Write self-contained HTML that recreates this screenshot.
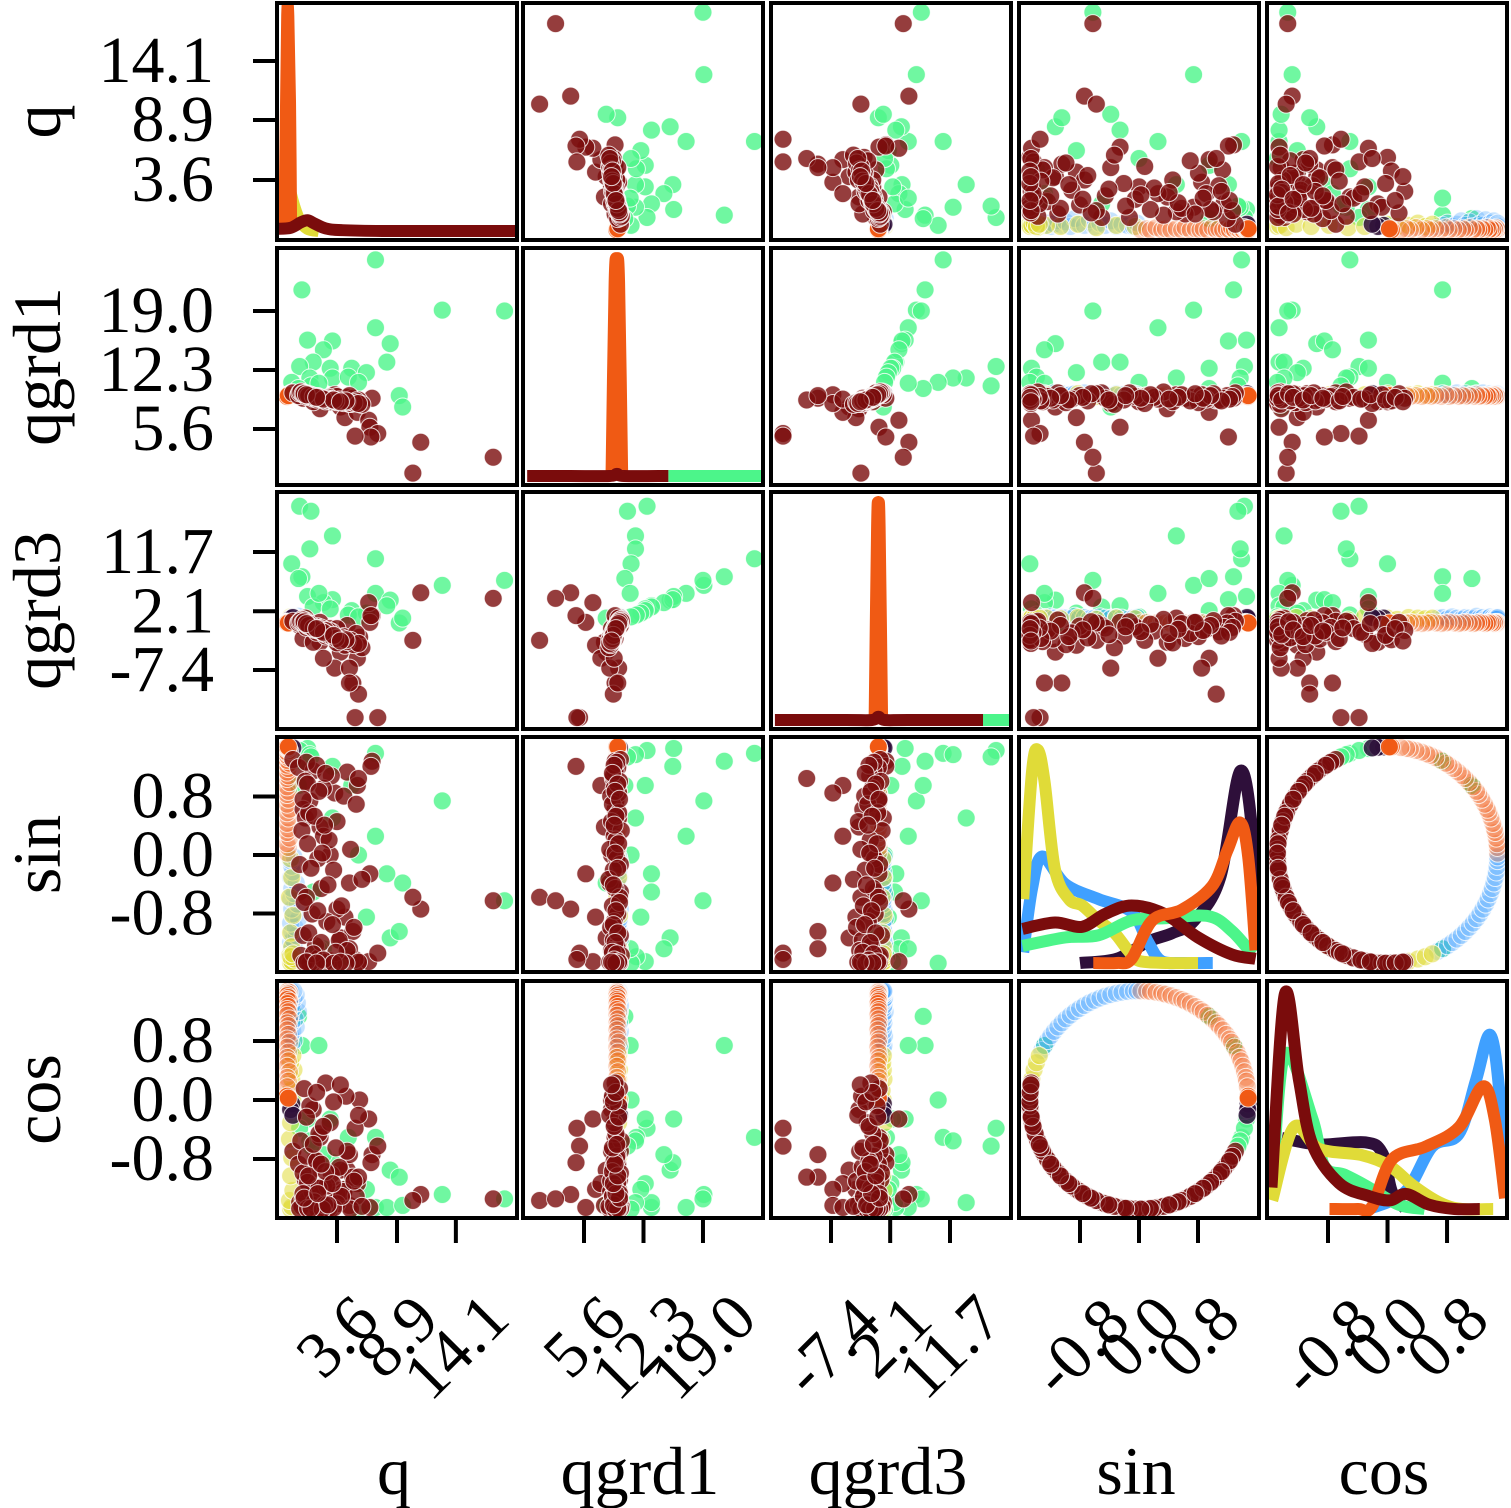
<!DOCTYPE html>
<html><head><meta charset="utf-8"><style>
html,body{margin:0;padding:0;background:#fff;}
svg{display:block;}
text{font-family:"Liberation Serif",serif;fill:#000;}
</style></head><body>
<svg id="chart" width="1511" height="1508" viewBox="0 0 1511 1508" xmlns="http://www.w3.org/2000/svg">
<rect x="0" y="0" width="1511" height="1508" fill="#fff"/>
</svg>
<script>
// ---- data ----
const varNames = ["q","qgrd1","qgrd3","sin","cos"];
const tickVals = [[3.6,8.9,14.1],[5.6,12.3,19.0],[-7.4,2.1,11.7],[-0.8,0.0,0.8],[-0.8,0.0,0.8]];
const tickLabels = [["3.6","8.9","14.1"],["5.6","12.3","19.0"],["-7.4","2.1","11.7"],["-0.8","0.0","0.8"],["-0.8","0.0","0.8"]];
const xLo = [-1.7,-1.27,-17.03,-1.627,-1.62];
const xHi = [19.5,25.76,21.49,1.627,1.606];
const yLo = [-1.69,-0.75,-16.95,-1.60,-1.60];
const yHi = [19.22,26.15,21.41,1.614,1.614];
const ringR = 1.48;
// records: [q, qgrd1, qgrd3, angleDeg]
const greenPts = [[7.0,24.8,10.6,110],[0.5,21.4,7.7,60],[12.9,19.1,6.3,150],[18.4,19.0,7.1,205],[7.0,17.1,5.0,170],[8.3,15.3,3.9,230],
[8.0,13.2,3.0,190],[1.0,15.7,4.5,100],[3.2,15.6,4.0,125],[2.4,14.6,3.5,240],[1.5,13.2,2.8,200],[0.3,12.7,19.1,105],
[3.0,12.5,2.5,260],[4.9,12.5,2.2,140],[6.2,12.0,1.8,215],[3.2,11.4,14.3,160],[4.6,11.5,1.5,250],[5.5,10.9,1.2,180],
[1.2,11.4,12.2,112],[9.1,9.4,0.2,225],[9.4,8.1,1.0,195],[-0.4,10.9,9.8,270],[1.3,10.5,18.3,115],[0.2,10.2,7.4,40],[2.0,10.8,5.0,300]];
const redPts = [[0.3,9.7,-0.2,200],[1.2,9.2,0.3,150],[2.1,9.1,0.3,250],[3.0,8.7,-0.7,180],[4.5,9.2,-0.2,130],[3.9,8.1,-4.5,230],
[2.1,7.9,-2.9,165],[5.6,8.7,-2.1,270],[6.7,9.1,1.4,120],[4.3,6.9,-3.4,215],[5.4,7.5,-5.5,140],[6.4,6.6,3.5,260],
[6.5,5.8,0.3,190],[7.2,5.1,-15.1,245],[6.6,4.7,1.4,125],[11.0,4.1,5.1,210],[10.3,0.6,-2.6,203],[17.4,2.4,4.2,205],
[0.6,9.1,-2.3,155],[-0.3,9.7,0.5,118],[1.5,8.7,-2.9,265],[3.4,9.5,-7.1,145],[5.0,9.1,-9.5,225],[4.7,8.5,-7.1,195],
[5.5,8.9,-11.3,135],[5.2,4.8,-15.1,255],[2.4,9.0,-5.5,170],[3.6,9.3,-0.7,210],[4.7,9.4,-9.5,240],[0.8,9.5,1.0,160],
[0.2,9.4,0.2,126],[1.5,9.1,-0.5,129],[3.1,8.9,-1.2,133],[0.8,9.6,0.6,137],[2.4,9.0,-0.8,142],[4.2,8.6,-2.0,147],
[5.3,8.8,-1.5,152],[1.1,9.5,0.1,157],[3.6,8.7,-3.0,162],[0.5,9.8,0.8,167],[2.9,9.2,-1.1,172],[4.8,8.5,-2.6,177],
[1.9,9.3,-0.4,182],[0.3,9.7,0.4,185],[3.3,8.9,-1.9,188],[5.8,8.4,-3.8,193],[2.2,9.1,-0.6,198],[0.9,9.6,0.2,203],
[4.0,8.8,-2.2,208],[1.4,9.4,-0.3,213],[2.7,9.0,-1.4,218],[5.1,8.6,-3.3,222],[0.6,9.7,0.7,228],[3.8,8.9,-2.4,232],
[1.7,9.3,-0.9,237],[4.5,8.7,-2.8,242],[0.4,9.8,0.5,248],[2.0,9.2,-0.7,252],[3.0,9.0,-1.6,258],[5.5,8.5,-3.1,262],
[1.2,9.5,0.0,267],[4.4,8.8,-2.5,272],[0.7,9.6,0.3,276],[2.6,9.1,-1.0,279],
[0.9,9.3,-0.5,121],[1.8,9.0,-1.3,124],[2.6,8.8,-1.9,131],[1.0,9.4,-0.2,139],[2.0,9.1,-1.0,144],[0.6,9.6,0.3,149],
[1.6,9.2,-0.8,159],[2.5,9.0,-1.5,164],[1.0,9.5,0.0,174],[2.3,9.1,-1.2,179],[1.3,9.4,-0.4,187],[2.8,8.9,-1.7,196],
[0.7,9.6,0.4,206],[1.9,9.2,-0.9,211],[3.2,8.9,-2.0,220],[1.1,9.4,-0.2,226],[2.2,9.1,-1.1,234],[3.5,8.8,-2.3,244],
[1.5,9.3,-0.6,246],[2.4,9.0,-1.3,256],[0.9,9.5,0.1,261],[3.3,8.9,-1.8,269],[1.8,9.2,-0.7,274],[3.9,8.7,-2.7,278]];
const yellowPts = [[-0.5,9.4,0.9,182],[-0.4,9.5,1.0,192],[-0.6,9.3,0.8,203],[-0.3,9.6,1.1,214],[-0.5,9.4,0.9,226],[-0.4,9.5,1.0,238],
[-0.6,9.3,0.7,249],[-0.5,9.5,1.2,258],[-0.4,9.4,0.9,265],[-0.3,9.6,1.0,270],[-0.5,9.3,0.8,275],[-0.4,9.5,1.1,281],
[-0.2,9.6,1.0,286],[-0.5,9.4,0.9,290],[-0.3,9.5,1.0,294]];
const purplePts = [[-0.4,9.5,1.0,92],[-0.5,9.4,0.9,95],[-0.3,9.6,1.1,98]];
const bluePts = [[-0.5,9.5,1.0,297],[-0.4,9.6,1.1,300],[-0.2,9.4,0.9,303],[-0.5,9.5,1.2,306],[-0.3,9.7,1.0,309],[0.0,9.5,0.8,312],
[-0.4,9.6,1.1,315],[-0.1,9.4,1.0,318],[-0.5,9.5,0.9,321],[0.2,9.6,1.3,324],[-0.3,9.5,1.0,327],[-0.4,9.7,1.1,330],
[0.1,9.4,0.9,333],[-0.5,9.5,1.0,336],[-0.2,9.6,1.2,339],[-0.4,9.5,1.0,342],[0.0,9.4,0.9,345],[-0.5,9.6,1.1,348],
[-0.3,9.5,1.0,351],[-0.4,9.4,0.8,354],[-0.5,9.6,1.0,357],[-0.2,9.5,1.1,359]];
const orangePts = [[-0.8,9.3,0.2,1],[-0.7,9.4,0.3,4],[-0.8,9.3,0.1,6],[-0.6,9.4,0.2,9],[-0.8,9.3,0.3,12],[-0.7,9.5,0.2,14],
[-0.8,9.3,0.1,17],[-0.7,9.4,0.2,20],[-0.8,9.3,0.3,23],[-0.6,9.4,0.2,25],[-0.8,9.3,0.1,28],[-0.7,9.4,0.2,31],
[-0.8,9.3,0.3,34],[-0.7,9.5,0.2,36],[-0.8,9.3,0.1,39],[-0.6,9.4,0.2,42],[-0.8,9.3,0.3,45],[-0.7,9.4,0.2,47],
[-0.8,9.3,0.1,50],[-0.7,9.4,0.2,53],[-0.8,9.3,0.3,56],[-0.6,9.5,0.2,58],[-0.8,9.3,0.1,61],[-0.7,9.4,0.2,64],
[-0.8,9.3,0.3,67],[-0.7,9.4,0.2,69],[-0.8,9.3,0.1,72],[-0.6,9.4,0.2,75],[-0.8,9.3,0.3,78],[-0.7,9.4,0.2,80],[-0.8,9.3,0.2,83]];
const orangeSolidPts = [[-0.8,9.3,0.2,88],[-0.7,9.4,0.2,89]];
// KDE curves (x in data units, d = fraction of panel height)
const kdeQOrangeX=[-1.05,-0.9,-0.8,-0.7,-0.55,-0.45], kdeQOrangeD=[0,0.6,1.0,1.0,0.6,0];
const kdeQYellowX=[-0.6,-0.2,0.3,1.0,2.0], kdeQYellowD=[0.2,0.12,0.05,0.01,0];
const kdeQRedX=[-1.7,-0.5,0.4,1.0,1.6,2.6,4.0,8.0,19.5], kdeQRedD=[0.01,0.015,0.04,0.05,0.035,0.012,0.004,0,0];
const kdeG1RedX=[-0.8,4,8.5,9.3,10.1,15.1], kdeG1RedD=[0,0,0,0.01,0,0];
const kdeG1GreenX=[15.1,25.8], kdeG1GreenD=[0,0];
const kdeG1OrangeX=[8.7,9.05,9.3,9.55,9.9], kdeG1OrangeD=[0,0.9,1.0,0.9,0];
const kdeG3RedX=[-16.4,-5,-0.8,0.2,1.2,5,17], kdeG3RedD=[0,0,0,0.015,0,0,0];
const kdeG3GreenX=[17,21.4], kdeG3GreenD=[0,0];
const kdeG3OrangeX=[-0.4,0.0,0.2,0.4,0.8], kdeG3OrangeD=[0,0.9,1.0,0.9,0];
const kdeSinPurpleX=[-0.8,-0.3,0.12,0.45,0.75,1.1,1.37,1.54,1.6], kdeSinPurpleD=[0,0.02,0.1,0.14,0.2,0.4,0.9,0.6,0.06];
const kdeSinBlueX=[-1.57,-1.45,-1.31,-1.0,-0.55,-0.1,0.12,0.3,0.6,1.0], kdeSinBlueD=[0.05,0.35,0.5,0.37,0.3,0.24,0.1,0.01,0,0];
const kdeSinYellowX=[-1.57,-1.45,-1.37,-1.28,-1.14,-0.95,-0.77,-0.55,-0.33,-0.15,0.0,0.4,0.8], kdeSinYellowD=[0.3,0.9,1.0,0.85,0.44,0.3,0.27,0.2,0.14,0.06,0.01,0,0];
const kdeSinGreenX=[-1.58,-1.0,-0.55,-0.1,0.35,0.94,1.26,1.54], kdeSinGreenD=[0.08,0.12,0.13,0.2,0.21,0.22,0.15,0.04];
const kdeSinRedX=[-1.58,-1.14,-0.77,-0.46,-0.1,0.35,0.8,1.26,1.58], kdeSinRedD=[0.16,0.19,0.17,0.23,0.27,0.23,0.12,0.04,0.02];
const kdeSinOrangeX=[-0.62,-0.3,-0.1,0.18,0.58,0.99,1.2,1.37,1.48,1.58], kdeSinOrangeD=[0,0,0.02,0.2,0.25,0.36,0.53,0.66,0.5,0.06];
const kdeCosPurpleX=[-1.42,-0.92,-0.3,-0.07,0.06,0.24], kdeCosPurpleD=[0.33,0.3,0.31,0.26,0.08,0];
const kdeCosBlueX=[-0.25,0.24,0.6,0.96,1.19,1.38,1.51,1.58], kdeCosBlueD=[0,0.08,0.29,0.35,0.6,0.81,0.52,0.05];
const kdeCosGreenX=[-1.55,-1.38,-1.01,-0.85,-0.58,-0.3,0.15,0.5], kdeCosGreenD=[0.1,0.72,0.42,0.2,0.16,0.11,0.02,0];
const kdeCosYellowX=[-1.55,-1.26,-0.92,-0.34,0.03,0.34,0.7,1.0,1.42], kdeCosYellowD=[0.04,0.38,0.28,0.25,0.2,0.11,0.03,0,0];
const kdeCosOrangeX=[-0.78,-0.4,-0.21,0.06,0.51,0.96,1.28,1.44,1.58], kdeCosOrangeD=[0,0,0.01,0.23,0.29,0.38,0.57,0.42,0.05];
const kdeCosRedX=[-1.56,-1.38,-1.19,-1.01,-0.65,-0.25,0.03,0.25,0.56,0.9,1.24], kdeCosRedD=[0.1,1.0,0.6,0.3,0.12,0.06,0.04,0.07,0.02,0,0];

// ---- layout ----
const NS="http://www.w3.org/2000/svg";
const svg=document.getElementById('chart');
const L=[277,523,771,1019,1267], T=[3,248,492,737,981], W=240, H=[237,237,237,235,237];
const C={green:"#4cf58a",red:"#7a0c0c",yellow:"#e0db38",purple:"#2e0f3a",blue:"#3fa0ff",orange:"#f05a14"};
function mk(tag,attrs,parent){const e=document.createElementNS(NS,tag);for(const k in attrs)e.setAttribute(k,attrs[k]);(parent||svg).appendChild(e);return e;}
function xPix(v,j){return L[j]+(v-xLo[j])/(xHi[j]-xLo[j])*W;}
function yPix(v,i){return T[i]+H[i]-(v-yLo[i])/(yHi[i]-yLo[i])*H[i];}
function val(rec,k){if(k<3)return rec[k];const a=rec[3]*Math.PI/180;return k===3?ringR*Math.sin(a):ringR*Math.cos(a);}
function smoothPath(pts){let d="M"+pts[0][0]+","+pts[0][1];for(let k=0;k<pts.length-1;k++){const p0=pts[Math.max(0,k-1)],p1=pts[k],p2=pts[k+1],p3=pts[Math.min(pts.length-1,k+2)];
const c1x=p1[0]+(p2[0]-p0[0])/6,c1y=p1[1]+(p2[1]-p0[1])/6,c2x=p2[0]-(p3[0]-p1[0])/6,c2y=p2[1]-(p3[1]-p1[1])/6;d+=" C"+c1x+","+c1y+" "+c2x+","+c2y+" "+p2[0]+","+p2[1];}return d;}

const defs=mk('defs',{});
for(let i=0;i<5;i++)for(let j=0;j<5;j++){const cp=mk('clipPath',{id:'c'+i+j},defs);mk('rect',{x:L[j]+2,y:T[i]+2,width:W-4,height:H[i]-4},cp);}

const classes=[["green",greenPts,0.8],["blue",bluePts,0.3],["yellow",yellowPts,0.55],["purple",purplePts,0.85],["orange",orangePts,0.28],["orange",orangeSolidPts,0.95],["red",redPts,0.8]];
const kdes=[
 [[kdeQYellowX,kdeQYellowD,"yellow"],[kdeQOrangeX,kdeQOrangeD,"orange"],[kdeQRedX,kdeQRedD,"red"]],
 [[kdeG1GreenX,kdeG1GreenD,"green"],[kdeG1OrangeX,kdeG1OrangeD,"orange"],[kdeG1RedX,kdeG1RedD,"red"]],
 [[kdeG3GreenX,kdeG3GreenD,"green"],[kdeG3OrangeX,kdeG3OrangeD,"orange"],[kdeG3RedX,kdeG3RedD,"red"]],
 [[kdeSinPurpleX,kdeSinPurpleD,"purple"],[kdeSinBlueX,kdeSinBlueD,"blue"],[kdeSinYellowX,kdeSinYellowD,"yellow"],[kdeSinGreenX,kdeSinGreenD,"green"],[kdeSinRedX,kdeSinRedD,"red"],[kdeSinOrangeX,kdeSinOrangeD,"orange"]],
 [[kdeCosPurpleX,kdeCosPurpleD,"purple"],[kdeCosBlueX,kdeCosBlueD,"blue"],[kdeCosGreenX,kdeCosGreenD,"green"],[kdeCosYellowX,kdeCosYellowD,"yellow"],[kdeCosOrangeX,kdeCosOrangeD,"orange"],[kdeCosRedX,kdeCosRedD,"red"]]
];

for(let i=0;i<5;i++)for(let j=0;j<5;j++){
 const g=mk('g',{'clip-path':'url(#c'+i+j+')'});
 
 
 if(i===j){
  const base=T[i]+H[i]-9, sc=H[i]-22;
  kdes[i].forEach(cv=>{
   const pts=cv[0].map((x,k)=>[xPix(x,j),base-cv[1][k]*sc]);
   const p=mk('path',{d:smoothPath(pts),fill:'none',stroke:C[cv[2]],'stroke-width':12,'stroke-linejoin':'round'},g);
   
   
  });
 } else {
  classes.forEach(cl=>{
   cl[1].forEach(rec=>{
    const c=mk('circle',{cx:xPix(val(rec,j),j),cy:yPix(val(rec,i),i),r:9,fill:C[cl[0]],'fill-opacity':cl[2],stroke:'#fff','stroke-width':1,'stroke-opacity':0.8},g);
    
    
   });
  });
 }
 const fr=mk('rect',{x:L[j],y:T[i],width:W,height:H[i],fill:'none',stroke:'#000','stroke-width':4});
 
 
}

// y ticks & labels
for(let i=0;i<5;i++){
 tickVals[i].forEach((v,k)=>{
  const y=yPix(v,i);
  const t=mk('line',{x1:253,x2:277,y1:y,y2:y,stroke:'#000','stroke-width':4});
  
  
  const tx=mk('text',{x:214,y:y+21,'font-size':66,'text-anchor':'end'});
  tx.textContent=tickLabels[i][k];
  
  
 });
 const cy=T[i]+H[i]/2;
 const lab=mk('text',{x:0,y:0,'font-size':68,'text-anchor':'middle',transform:'translate(60,'+cy+') rotate(-90)'});
 lab.textContent=varNames[i];
 
 
}
// x ticks & labels
for(let j=0;j<5;j++){
 tickVals[j].forEach((v,k)=>{
  const x=xPix(v,j);
  const t=mk('line',{x1:x,x2:x,y1:1218,y2:1243,stroke:'#000','stroke-width':4});
  
  
  const tx=mk('text',{x:0,y:0,'font-size':66,'text-anchor':'middle'});
  tx.textContent=tickLabels[j][k];
  const w=tickLabels[j][k].length*29;
  const cy=1290+(w+44)*0.354;
  tx.setAttribute('transform','translate('+x+','+cy+') rotate(-45) translate(0,22)');
  
  
 });
 const lab=mk('text',{x:L[j]+W/2-3,y:1494,'font-size':68,'text-anchor':'middle'});
 lab.textContent=varNames[j];
 
 
}
</script>
</body></html>
